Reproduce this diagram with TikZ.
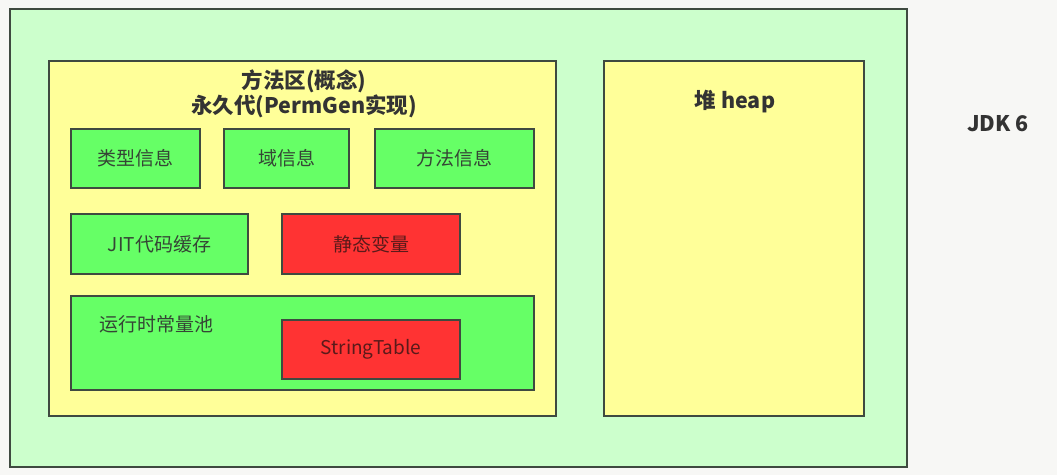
\documentclass[tikz,border=0pt]{standalone}
\usepackage{fontspec}
\setmainfont{Noto Sans CJK SC}
\definecolor{bgc}{HTML}{F7F7F5}
\definecolor{outerc}{HTML}{CCFFCC}
\definecolor{yel}{HTML}{FFFF99}
\definecolor{grn}{HTML}{66FF66}
\definecolor{redc}{HTML}{FF3333}
\definecolor{edge}{HTML}{3F4A40}
\definecolor{txt}{HTML}{333333}
\definecolor{txtg}{HTML}{354535}
\definecolor{txtr}{HTML}{5A1A1A}
\tikzset{
  box/.style={draw=edge, line width=2pt, rectangle, inner sep=0pt, outer sep=0pt},
  region/.style={box, fill=yel},
  gbox/.style={box, fill=grn, text=txtg, font=\fontsize{19}{22}\selectfont},
  rbox/.style={box, fill=redc, text=txtr, font=\fontsize{19}{22}\selectfont},
  head/.style={text=txt, font=\bfseries\fontsize{21.5}{25}\selectfont, align=center, inner sep=0pt}
}
\begin{document}
\begin{tikzpicture}[x=1pt,y=-1pt]
\fill[bgc] (0,0) rectangle (1057,475);
\useasboundingbox (0,0) rectangle (1057,475);
\node[box, fill=outerc, minimum width=897pt, minimum height=458pt] (outer) at (458.5,238) {};
\node[region, minimum width=507pt, minimum height=355pt] (method) at (302.5,238.5) {};
\node[region, minimum width=260pt, minimum height=355pt] (heap) at (734,238.5) {};
\node[head] (title) at (304,94) {方法区(概念)\\永久代(PermGen实现)};
\node[head] (heaplbl) at (735,102) {堆 heap};
\node[head] (jdk) at (998,124) {JDK 6};
\node[gbox, minimum width=129pt, minimum height=59pt] (type) at (135.5,158.5) {类型信息};
\node[gbox, minimum width=125pt, minimum height=59pt] (field) at (286.5,158.5) {域信息};
\node[gbox, minimum width=159pt, minimum height=59pt] (meth) at (454.5,158.5) {方法信息};
\node[gbox, minimum width=177pt, minimum height=60pt] (jit) at (159.5,244) {JIT代码缓存};
\node[rbox, minimum width=178pt, minimum height=60pt] (static) at (371,244) {静态变量};
\node[gbox, minimum width=463pt, minimum height=94pt] (rcp) at (302.5,343) {};
\node[text=txtg, font=\fontsize{19}{22}\selectfont, inner sep=0pt] (rcplbl) at (156,324) {运行时常量池};
\node[rbox, minimum width=178pt, minimum height=59pt] (st) at (371,349.5) {StringTable};
\end{tikzpicture}
\end{document}
